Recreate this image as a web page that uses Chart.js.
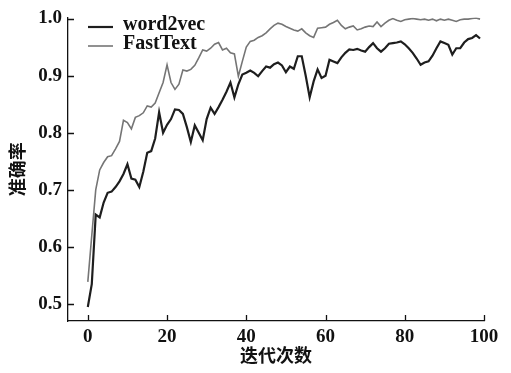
<!DOCTYPE html>
<html>
<head>
<meta charset="utf-8">
<script src="https://cdn.jsdelivr.net/npm/chart.js@4.4.1/dist/chart.umd.min.js"></script>
<style>
  html, body { margin: 0; padding: 0; background: #fff; }
  #wrap { width: 511px; height: 373px; }
</style>
</head>
<body>
<div id="wrap"><canvas id="myChart" width="511" height="373"></canvas></div>
<script>
// epochs 0..99
let epochs = Array.from({length: 100}, (_, i) => i);

let word2vec = [
  0.495, 0.535, 0.657, 0.652, 0.678, 0.695, 0.697, 0.705, 0.715, 0.728,
  0.745, 0.720, 0.718, 0.705, 0.732, 0.765, 0.768, 0.790, 0.836, 0.800,
  0.814, 0.824, 0.841, 0.840, 0.833, 0.810, 0.784, 0.813, 0.800, 0.787,
  0.824, 0.844, 0.833, 0.845, 0.858, 0.872, 0.888, 0.862, 0.885, 0.902,
  0.905, 0.909, 0.905, 0.899, 0.908, 0.916, 0.914, 0.920, 0.923, 0.918,
  0.906, 0.916, 0.912, 0.934, 0.934, 0.900, 0.862, 0.890, 0.911, 0.896,
  0.900, 0.928, 0.925, 0.922, 0.932, 0.940, 0.946, 0.945, 0.947, 0.944,
  0.942, 0.950, 0.957, 0.948, 0.942, 0.948, 0.956, 0.957, 0.958, 0.960,
  0.955, 0.948, 0.940, 0.930, 0.919, 0.923, 0.925, 0.935, 0.948, 0.960,
  0.957, 0.954, 0.937, 0.948, 0.948, 0.958, 0.964, 0.966, 0.971, 0.965
];

let fastText = [
  0.539, 0.620, 0.700, 0.735, 0.748, 0.758, 0.760, 0.772, 0.785, 0.822,
  0.818, 0.807, 0.827, 0.830, 0.835, 0.847, 0.845, 0.852, 0.870, 0.888,
  0.919, 0.888, 0.876, 0.885, 0.910, 0.908, 0.911, 0.918, 0.931, 0.945,
  0.943, 0.948, 0.955, 0.958, 0.945, 0.948, 0.940, 0.938, 0.899, 0.925,
  0.950, 0.960, 0.962, 0.967, 0.970, 0.975, 0.982, 0.988, 0.992, 0.990,
  0.986, 0.983, 0.980, 0.978, 0.982, 0.975, 0.970, 0.967, 0.983, 0.984,
  0.985, 0.990, 0.993, 0.997, 0.988, 0.982, 0.985, 0.987, 0.980, 0.982,
  0.985, 0.987, 0.986, 0.994, 0.986, 0.992, 0.997, 1.000, 0.997, 0.995,
  0.998, 0.999, 1.000, 0.999, 0.998, 0.999, 0.997, 0.999, 0.996, 0.999,
  0.997, 0.999, 0.997, 0.995, 0.998, 0.999, 0.999, 1.000, 1.001, 0.999
];

let xTicks = [0, 20, 40, 60, 80, 100];
let yTicks = [0.5, 0.6, 0.7, 0.8, 0.9, 1.0];

let tickFont = {family: "'Liberation Serif', 'Times New Roman', serif", size: 19, weight: 'bold'};
let cjkFont = {family: "'Noto Sans CJK SC', sans-serif", size: 18, weight: 'bold'};

// inward tick marks + legend inside the plot
let extras = {
  id: 'extras',
  afterDraw(chart) {
    let c = chart.ctx, xs = chart.scales.x, ys = chart.scales.y, area = chart.chartArea;
    c.save();
    c.strokeStyle = '#111';
    c.lineWidth = 1.3;
    c.beginPath();
    xTicks.forEach(v => {
      let px = Math.round(xs.getPixelForValue(v)) + 0.5;
      c.moveTo(px, area.bottom);
      c.lineTo(px, area.bottom - 6);
    });
    yTicks.forEach(v => {
      let py = Math.round(ys.getPixelForValue(v)) + 0.5;
      c.moveTo(area.left, py);
      c.lineTo(area.left + 6, py);
    });
    c.stroke();

    // legend
    c.font = "bold 20px 'Liberation Serif', 'Times New Roman', serif";
    c.textBaseline = 'middle';
    chart.data.datasets.forEach((ds, k) => {
      let y = 27 + k * 19;
      c.strokeStyle = ds.borderColor;
      c.lineWidth = ds.borderWidth;
      c.beginPath();
      c.moveTo(88, y);
      c.lineTo(113, y);
      c.stroke();
      c.fillStyle = '#111';
      c.fillText(ds.label, 123, y - 2);
    });
    c.restore();
  }
};

let ctx = document.getElementById("myChart").getContext("2d");
let myChart = new Chart(ctx, {
  type: 'line',
  data: {
    labels: epochs,
    datasets: [
      {label: 'word2vec', data: word2vec, borderColor: '#1e1e1e', borderWidth: 2.2, pointRadius: 0, tension: 0},
      {label: 'FastText', data: fastText, borderColor: '#757575', borderWidth: 1.6, pointRadius: 0, tension: 0}
    ]
  },
  options: {
    responsive: false,
    animation: false,
    layout: {padding: {top: 14, right: 27, left: 0, bottom: 0}},
    plugins: {legend: {display: false}, tooltip: {enabled: false}},
    scales: {
      x: {
        type: 'linear',
        min: -5,
        max: 100,
        afterBuildTicks: s => { s.ticks = xTicks.map(v => ({value: v})); },
        afterFit: s => { s.height = 52; },
        grid: {display: false, drawTicks: false},
        border: {display: true, color: '#111', width: 1.3},
        ticks: {font: tickFont, color: '#111', padding: 5, maxRotation: 0},
        title: {display: true, text: '迭代次数', font: cjkFont, color: '#111', padding: {top: 0, bottom: 7}}
      },
      y: {
        min: 0.4706,
        max: 1.002,
        afterBuildTicks: s => { s.ticks = yTicks.map(v => ({value: v})); },
        afterFit: s => { s.width = 68; },
        grid: {display: false, drawTicks: false},
        border: {display: true, color: '#111', width: 1.3},
        ticks: {font: tickFont, color: '#111', padding: 6, callback: v => v.toFixed(1)},
        title: {display: true, text: '准确率', font: cjkFont, color: '#111', padding: {top: 6, bottom: 0}}
      }
    }
  },
  plugins: [extras]
});
</script>
</body>
</html>
